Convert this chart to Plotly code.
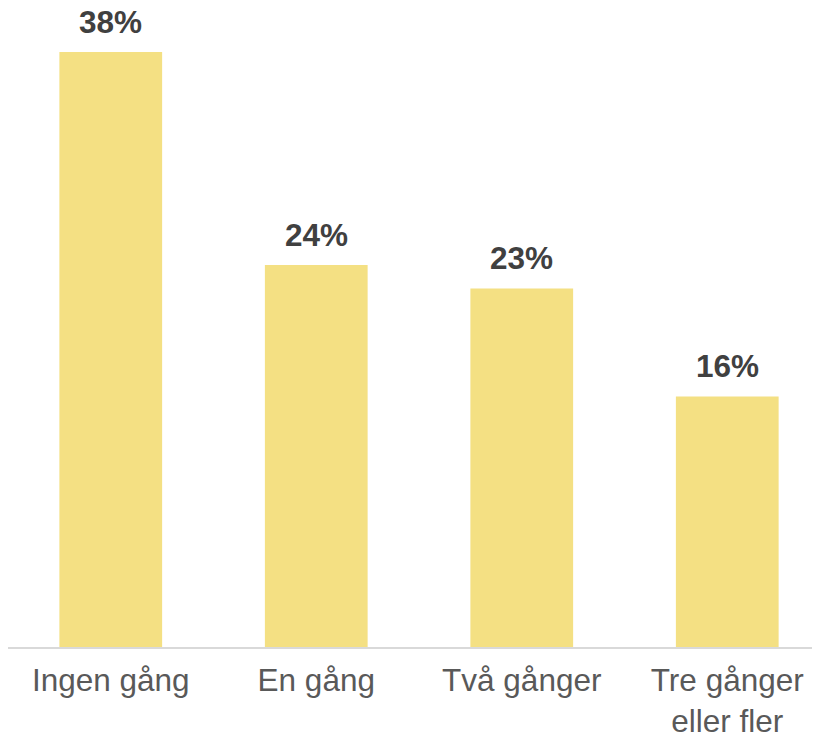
import plotly.graph_objects as go

categories = ["Ingen gång", "En gång", "Två gånger", "Tre gånger<br>eller fler"]
values = [38.0, 24.4, 22.9, 16.0]
labels = [f"{round(v)}%" for v in values]

xs = list(range(len(categories)))
FONT = "Liberation Sans, Arial, sans-serif"

fig = go.Figure()
fig.add_trace(go.Bar(
    x=xs, y=values, width=0.5,
    marker=dict(color="#F4E083", line=dict(width=0)),
    hoverinfo="skip",
))
for x, v, t in zip(xs, values, labels):
    fig.add_annotation(x=x, y=v, text=f"<b>{t}</b>", showarrow=False,
                       yanchor="bottom", yshift=10,
                       font=dict(family=FONT, size=31.5, color="#404040"))

fig.update_layout(
    width=822, height=735,
    margin=dict(l=0, r=0, t=8, b=96, autoexpand=False),
    paper_bgcolor="white", plot_bgcolor="white",
    showlegend=False,
    xaxis=dict(range=[-0.5, 3.5], tickvals=xs, ticktext=categories,
               showline=True, linecolor="#D9D9D9", linewidth=2,
               showgrid=False, zeroline=False, ticks="", ticklabelstandoff=4,
               automargin=False,
               tickfont=dict(family=FONT, size=31.5, color="#595959")),
    yaxis=dict(range=[0, 40.3], visible=False, showgrid=False, zeroline=False),
)
fig.write_html("out.html")
